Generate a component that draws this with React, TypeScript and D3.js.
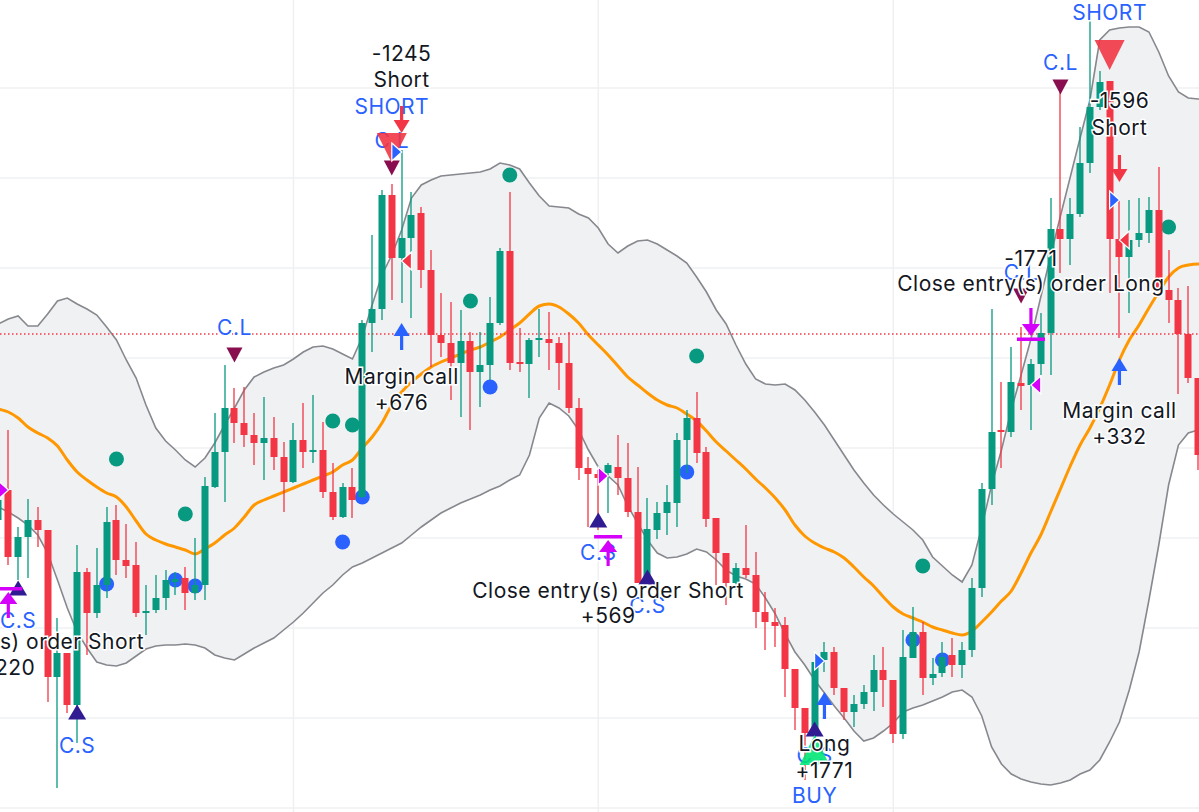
import React from 'react';
import * as d3 from 'd3';

const W = 1199;
const H = 812;

// ---- candles (bar index starts at -1) ----
const FIRST_BAR = -1;
const openPrices = [480,510,443,463,480,470,323,347,295,428,387,415,480,440,435,387,390,402,418,422,407,415,513,548,592,577,565,557,562,543,518,560,548,550,508,483,513,503,677,691,805,742,762,787,730,665,657,637,659,628,635,677,749,638,636,660,661,657,637,592,532,526,527,533,522,488,417,470,487,497,560,582,548,482,447,417,432,425,388,378,375,331,292,267,340,348,312,288,296,308,330,320,266,342,368,322,327,345,335,350,412,511,570,568,617,615,636,667,771,761,786,837,893,919,761,743,760,767,790,710,700,666,622];
const highPrices = [515,570,473,501,493,470,382,347,455,432,452,493,495,476,458,415,425,430,428,433,462,523,587,635,612,613,587,603,583,558,577,597,605,578,537,517,532,680,765,810,816,850,808,793,750,707,698,690,668,668,703,752,808,672,662,691,688,663,668,602,543,530,537,565,557,533,502,498,515,567,590,608,553,482,447,437,475,448,408,392,383,331,292,345,358,353,312,305,315,345,353,320,370,393,378,342,358,362,358,422,517,691,618,653,673,641,687,802,912,802,873,979,929,919,800,800,802,803,833,750,712,714,622];
const lowPrices = [465,435,420,422,453,298,212,287,257,345,382,402,425,422,383,365,387,390,405,390,400,400,512,498,557,553,535,520,530,488,517,532,537,502,480,482,482,502,648,680,700,697,682,712,633,643,600,583,570,593,620,675,630,628,602,643,630,610,587,520,473,470,487,505,483,417,415,461,465,473,527,537,473,415,395,410,422,372,350,353,303,270,220,260,328,305,280,273,291,289,293,257,261,342,305,315,323,323,322,343,403,495,532,563,590,570,625,625,727,735,783,827,890,707,662,687,753,757,709,677,606,617,530];
const closePrices = [500,443,463,480,470,323,347,295,428,387,415,478,440,434,387,389,402,420,421,407,415,514,548,592,577,565,557,562,543,518,560,548,550,508,483,513,500,677,691,805,742,762,785,730,665,657,637,659,628,635,677,749,637,636,660,662,657,637,592,532,526,522,535,522,488,417,471,487,498,560,582,547,481,447,417,432,425,388,378,374,331,292,267,338,348,312,288,296,308,330,320,266,343,368,322,326,343,335,350,412,511,568,568,618,614,636,667,771,761,786,837,893,918,761,743,760,767,790,709,700,666,622,545];

// ---- Bollinger bands (bar index starts at -2) ----
const BAND_FIRST_BAR = -2;
const upperBand = [672,676,681,684,674,674,686,699,702,696,691,685,673,660,640,622,595,572,559,550,540,533,542,557,575,592,610,623,628,632,635,641,648,653,654,651,646,641,663,695,725,745,770,802,815,820,824,825,826,827,828,831,837,835,831,817,804,794,793,792,786,782,772,756,747,754,759,760,756,750,744,737,723,708,690,676,655,636,621,616,615,616,610,600,588,575,560,545,530,517,505,495,486,478,470,460,443,434,425,418,435,473,515,550,590,625,661,703,744,784,823,862,900,960,970,972,973,973,968,948,924,908,902,901,901];
const middleBand = [595,591,588,582,573,567,562,554,540,528,520,513,507,503,493,479,466,460,456,453,450,446,451,457,465,472,483,495,500,504,508,512,516,520,524,528,535,540,552,563,577,595,608,618,626,633,638,642,646,650,653,658,663,670,677,686,694,696,693,686,677,665,655,645,634,623,615,607,600,595,592,586,579,569,558,549,540,531,521,512,502,490,475,464,457,452,448,442,433,423,414,403,393,386,382,378,373,370,367,365,369,378,388,399,409,427,447,465,488,511,534,555,572,592,615,640,660,675,692,708,723,732,735,736,736];
const lowerBand = [500,493,488,482,475,465,447,420,392,368,352,338,335,334,337,344,351,354,355,355,356,355,352,345,342,340,346,352,357,362,370,378,387,397,407,415,425,433,437,442,447,452,457,465,473,480,487,492,497,501,505,510,514,520,525,545,582,597,592,584,570,550,533,524,515,494,477,460,447,442,443,446,451,448,440,430,424,421,416,402,386,366,348,335,320,307,294,282,269,259,262,269,277,288,292,295,299,303,308,310,303,284,253,236,226,221,218,216,215,217,220,226,230,240,258,278,310,348,400,455,515,555,567,570,570];

// ---- grid ----
const gridPrices = [912, 822, 732, 642, 552, 462, 372, 282, 192];
const gridBars = [29, 60, 90];
const alertPrice = 666;

// ---- plotted dots [bar, price] ----
const tealDots = [[11,541],[18,486],[33,579],[35,575],[47,699],[51,825],[70,644],[93,434],[118,773]];
const blueDots = [[10,416],[17,420],[19,414],[34,458],[36,503],[49,613],[69,528],[92,360],[95,340]];

// ---- signal shapes [bar, price] ----
const maroonDown = [[23,645],[39,832],[107,913],[103,704]];
const navyUp = [[1,412],[7,288],[60,480],[65,423],[82,271]];
const shortTriangles = [[39,852],[112,945]];
const buyTriangles = [[82,250]];
const blueUpArrows = [[40,677],[113,642],[83,308]];
const redDownArrows = [[40,867],[113,818]];
const magentaDownBar = [[104,661]];
const magentaUpBar = [[61,463],[0,411]];
const magentaRight = [[-1,510],[60,524]];
const blueRight = [[39,848],[112,800],[82,339]];
const magentaLeft = [[105,615]];
const redLeft = [[41,739],[114,760]];

// ---- labels [bar, price, text] ----
const blueLabels: [number, number, string][] = [
  [23,673,'C.L'],[39,860,'C.L'],[39,894,'SHORT'],[107,938,'C.L'],[103,728,'C.L'],[112,988,'SHORT'],
  [1,380,'C.S'],[7,255,'C.S'],[60,448,'C.S'],[65,395,'C.S'],[82,245,'C.S'],[82,205,'BUY'],
];
const blackLabels: [number, number, string][] = [
  [40,947,'-1245'],[40,921,'Short'],[40,624,'Margin call'],[40,598,'+676'],
  [61,410,'Close entry(s) order Short'],[61,385,'+569'],
  [0,359,'Close entry(s) order Short'],[0,333,'+220'],
  [83,257,'Long'],[83,230,'+1771'],
  [104,742,'-1771'],[104,717,'Close entry(s) order Long'],
  [113,900,'-1596'],[113,873,'Short'],
  [113,590,'Margin call'],[113,564,'+332'],
];

const UP = '#089981';
const DOWN = '#f23645';
const BLUE = '#2962ff';
const MAGENTA = '#d500f9';
const FONT = 'Inter, "Open Sans", sans-serif';

export default function App() {
  const x = d3.scaleLinear().domain([0, 121]).range([8.3, 1198.1]);
  const y = d3.scaleLinear().domain([188, 1000]).range([H, 0]);

  const candles = openPrices.map((o, k) => ({
    i: k + FIRST_BAR, o, h: highPrices[k], l: lowPrices[k], c: closePrices[k],
  }));
  const bands = upperBand.map((u, k) => ({ i: k + BAND_FIRST_BAR, u, m: middleBand[k], l: lowerBand[k] }));

  const area = d3.area<any>().x(d => x(d.i)).y0(d => y(d.l)).y1(d => y(d.u));
  const upperLine = d3.line<any>().x(d => x(d.i)).y(d => y(d.u));
  const lowerLine = d3.line<any>().x(d => x(d.i)).y(d => y(d.l));
  const midLine = d3.line<any>().x(d => x(d.i)).y(d => y(d.m)).curve(d3.curveMonotoneX);

  const tri = (cx: number, cy: number, w: number, h: number, dir: 'up' | 'down' | 'left' | 'right') => {
    if (dir === 'down') return `M${cx - w / 2},${cy - h / 2}L${cx + w / 2},${cy - h / 2}L${cx},${cy + h / 2}Z`;
    if (dir === 'up') return `M${cx - w / 2},${cy + h / 2}L${cx + w / 2},${cy + h / 2}L${cx},${cy - h / 2}Z`;
    if (dir === 'right') return `M${cx},${cy - h / 2}L${cx + w},${cy}L${cx},${cy + h / 2}Z`;
    return `M${cx},${cy - h / 2}L${cx - w},${cy}L${cx},${cy + h / 2}Z`;
  };

  const textStyle = { fontFamily: FONT, fontSize: 21, letterSpacing: '0.5px' } as const;

  return (
    <svg width={W} height={H} style={{ position: 'absolute', left: 0, top: 0, background: '#fff' }}>
      <rect width={W} height={H} fill="#ffffff" />
      <g>
        {gridPrices.map(p => (
          <line key={'h' + p} x1={0} x2={W} y1={y(p)} y2={y(p)} stroke="#eef0f3" strokeWidth={1.5} />
        ))}
        {gridBars.map(b => (
          <line key={'v' + b} x1={x(b)} x2={x(b)} y1={0} y2={H} stroke="#eef0f3" strokeWidth={1.5} />
        ))}
      </g>
      <path d={area(bands) || ''} fill="#f0f1f3" />
      <path d={upperLine(bands) || ''} fill="none" stroke="#86888e" strokeWidth={1.6} />
      <path d={lowerLine(bands) || ''} fill="none" stroke="#86888e" strokeWidth={1.6} />
      <path d={midLine(bands) || ''} fill="none" stroke="#ff9800" strokeWidth={3} />
      <line x1={0} x2={W} y1={y(alertPrice)} y2={y(alertPrice)} stroke={DOWN} strokeWidth={1.3} strokeDasharray="1.5 2.5" />

      {tealDots.map(([b, p], k) => (
        <circle key={'t' + k} cx={x(b)} cy={y(p)} r={7.5} fill="#089981" />
      ))}
      {blueDots.map(([b, p], k) => (
        <circle key={'b' + k} cx={x(b)} cy={y(p)} r={7.5} fill={BLUE} />
      ))}

      <g>
        {candles.map(d => {
          const col = d.c >= d.o ? UP : DOWN;
          const cx = Math.round(x(d.i));
          const top = y(Math.max(d.o, d.c));
          const bot = y(Math.min(d.o, d.c));
          return (
            <g key={'c' + d.i}>
              <line x1={cx} x2={cx} y1={y(d.h)} y2={y(d.l)} stroke={col} strokeWidth={1.3} />
              <rect x={cx - 3.5} y={top} width={7} height={Math.max(1.5, bot - top)} fill={col} />
            </g>
          );
        })}
      </g>

      {blueLabels.map(([b, p, t], k) => (
        <text key={'bl' + k} x={x(b)} y={y(p)} textAnchor="middle" dominantBaseline="central"
          fill={BLUE} stroke="#fff" strokeWidth={3} paintOrder="stroke" style={textStyle}>{t}</text>
      ))}

      {maroonDown.map(([b, p], k) => (
        <path key={'md' + k} d={tri(x(b), y(p), 16, 15, 'down')} fill="#880e4f" />
      ))}
      {navyUp.map(([b, p], k) => (
        <path key={'nu' + k} d={tri(x(b), y(p), 18, 15, 'up')} fill="#311b92" />
      ))}
      {shortTriangles.map(([b, p], k) => (
        <path key={'st' + k} d={tri(x(b), y(p), 30, 30, 'down')} fill={DOWN} fillOpacity={0.9} />
      ))}
      {buyTriangles.map(([b, p], k) => (
        <path key={'bt' + k} d={tri(x(b), y(p), 30, 30, 'up')} fill="#00e676" fillOpacity={0.9} />
      ))}
      {magentaRight.map(([b, p], k) => (
        <path key={'mr' + k} d={tri(x(b), y(p), 10, 18, 'right')} fill={MAGENTA} stroke="#fff" strokeWidth={1.2} />
      ))}
      {blueRight.map(([b, p], k) => (
        <path key={'br' + k} d={tri(x(b), y(p), 10, 18, 'right')} fill={BLUE} stroke="#fff" strokeWidth={1.2} />
      ))}
      {magentaLeft.map(([b, p], k) => (
        <path key={'ml' + k} d={tri(x(b), y(p), 10, 18, 'left')} fill={MAGENTA} stroke="#fff" strokeWidth={1.2} />
      ))}
      {redLeft.map(([b, p], k) => (
        <path key={'rl' + k} d={tri(x(b), y(p), 10, 18, 'left')} fill={DOWN} stroke="#fff" strokeWidth={1.2} />
      ))}

      {blueUpArrows.map(([b, p], k) => {
        const cx = x(b), ty = y(p);
        return (
          <g key={'ua' + k}>
            <path d={tri(cx, ty + 6.5, 16, 13, 'up')} fill={BLUE} />
            <rect x={cx - 1.6} y={ty + 12} width={3.2} height={15} fill={BLUE} />
          </g>
        );
      })}
      {redDownArrows.map(([b, p], k) => {
        const cx = x(b), ty = y(p);
        return (
          <g key={'da' + k}>
            <path d={tri(cx, ty - 6.5, 16, 13, 'down')} fill={DOWN} />
            <rect x={cx - 1.6} y={ty - 27} width={3.2} height={15} fill={DOWN} />
          </g>
        );
      })}
      {magentaDownBar.map(([b, p], k) => {
        const cx = x(b), by = y(p);
        return (
          <g key={'mdb' + k}>
            <rect x={cx - 14} y={by - 1.5} width={28} height={3.5} fill={MAGENTA} />
            <path d={tri(cx, by - 9, 18, 12, 'down')} fill={MAGENTA} />
            <rect x={cx - 1.6} y={by - 31} width={3.2} height={18} fill={MAGENTA} />
          </g>
        );
      })}
      {magentaUpBar.map(([b, p], k) => {
        const cx = x(b), by = y(p);
        return (
          <g key={'mub' + k}>
            <rect x={cx - 14} y={by - 2} width={28} height={3.5} fill={MAGENTA} />
            <path d={tri(cx, by + 9, 18, 12, 'up')} fill={MAGENTA} />
            <rect x={cx - 1.6} y={by + 13} width={3.2} height={16} fill={MAGENTA} />
          </g>
        );
      })}

      {blackLabels.map(([b, p, t], k) => (
        <text key={'k' + k} x={x(b)} y={y(p)} textAnchor="middle" dominantBaseline="central"
          fill="#131722" stroke="#fff" strokeWidth={3} paintOrder="stroke" style={textStyle}>{t}</text>
      ))}
    </svg>
  );
}
